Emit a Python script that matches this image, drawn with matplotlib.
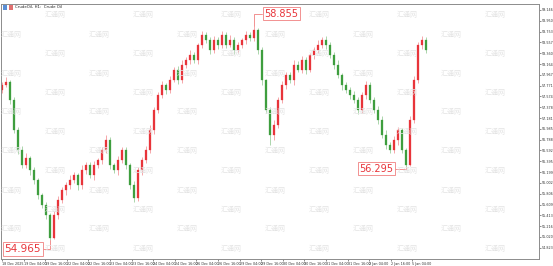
import matplotlib
matplotlib.use("Agg")
import matplotlib.pyplot as plt
from matplotlib.patches import Rectangle

# hourly closes
close = [57.78, 57.84, 57.51, 56.96, 56.60, 56.33, 56.46, 56.24, 56.05, 55.78,
         55.60, 55.42, 55.00, 55.42, 55.69, 55.87, 55.96, 56.05, 56.15, 55.96,
         56.24, 56.33, 56.15, 56.33, 56.42, 56.60, 56.78, 56.33, 56.24, 56.42,
         56.60, 56.33, 55.96, 55.73, 56.24, 56.42, 56.60, 56.96, 57.33, 57.60,
         57.78, 57.69, 57.87, 58.06, 57.87, 58.15, 58.24, 58.33, 58.24, 58.51,
         58.69, 58.60, 58.42, 58.60, 58.51, 58.69, 58.51, 58.60, 58.42, 58.51,
         58.60, 58.69, 58.64, 58.78, 58.42, 57.87, 57.33, 56.87, 57.06, 57.51,
         57.78, 57.96, 57.87, 58.15, 58.06, 58.24, 58.06, 58.33, 58.42, 58.51,
         58.60, 58.51, 58.33, 58.15, 57.96, 57.78, 57.69, 57.60, 57.51, 57.33,
         57.60, 57.78, 57.51, 57.33, 57.15, 56.87, 56.69, 56.60, 56.78, 56.96,
         56.60, 56.33, 57.15, 57.87, 58.51, 58.60, 58.42]
first_open = 57.70
upper_wick = [0.05, 0.08, 0.04, 0.06, 0.05, 0.07, 0.09, 0.04, 0.06, 0.05,
              0.04, 0.06, 0.03, 0.08, 0.07, 0.05, 0.06, 0.09, 0.05, 0.04,
              0.08, 0.06, 0.05, 0.07, 0.04, 0.06, 0.10, 0.05, 0.04, 0.07,
              0.05, 0.06, 0.04, 0.08, 0.05, 0.06, 0.07, 0.09, 0.05, 0.06,
              0.08, 0.04, 0.07, 0.05, 0.06, 0.09, 0.05, 0.08, 0.06, 0.04,
              0.07, 0.05, 0.06, 0.08, 0.05, 0.07, 0.06, 0.09, 0.05, 0.06,
              0.04, 0.07, 0.05, 0.075, 0.04, 0.05, 0.03, 0.06, 0.08, 0.05,
              0.07, 0.06, 0.05, 0.08, 0.06, 0.07, 0.05, 0.04, 0.06, 0.09,
              0.05, 0.07, 0.06, 0.05, 0.08, 0.04, 0.06, 0.05, 0.07, 0.06,
              0.05, 0.08, 0.06, 0.05, 0.07, 0.06, 0.09, 0.05, 0.07, 0.06,
              0.04, 0.03, 0.06, 0.08, 0.05, 0.07, 0.05]
lower_wick = [0.06, 0.04, 0.07, 0.05, 0.08, 0.06, 0.05, 0.09, 0.06, 0.07,
              0.05, 0.08, 0.035, 0.02, 0.07, 0.05, 0.09, 0.06, 0.05, 0.08,
              0.06, 0.07, 0.05, 0.09, 0.06, 0.08, 0.05, 0.07, 0.06, 0.09,
              0.05, 0.07, 0.06, 0.08, 0.05, 0.09, 0.06, 0.05, 0.07, 0.06,
              0.05, 0.08, 0.06, 0.04, 0.07, 0.05, 0.06, 0.08, 0.05, 0.07,
              0.06, 0.05, 0.08, 0.06, 0.07, 0.05, 0.06, 0.04, 0.07, 0.05,
              0.06, 0.08, 0.05, 0.06, 0.07, 0.09, 0.06, 0.18, 0.08, 0.06,
              0.05, 0.07, 0.06, 0.08, 0.05, 0.06, 0.07, 0.05, 0.08, 0.06,
              0.05, 0.07, 0.06, 0.08, 0.05, 0.09, 0.06, 0.07, 0.05, 0.08,
              0.06, 0.07, 0.05, 0.06, 0.08, 0.05, 0.07, 0.06, 0.05, 0.08,
              0.06, 0.035, 0.02, 0.05, 0.06, 0.08, 0.05]

price_ticks = [59.146, 58.950, 58.753, 58.557, 58.360, 58.164, 57.967, 57.771,
               57.574, 57.378, 57.181, 56.985, 56.788, 56.592, 56.395, 56.199,
               56.002, 55.806, 55.609, 55.413, 55.216, 55.020, 54.823]
time_labels = ["18 Dec 2025", "19 Dec 04:00", "19 Dec 16:00", "22 Dec 04:00",
               "22 Dec 16:00", "23 Dec 04:00", "23 Dec 16:00", "24 Dec 04:00",
               "24 Dec 16:00", "26 Dec 04:00", "26 Dec 16:00", "29 Dec 04:00",
               "29 Dec 16:00", "30 Dec 04:00", "30 Dec 16:00", "31 Dec 04:00",
               "31 Dec 16:00", "2 Jan 04:00", "2 Jan 16:00", "5 Jan 04:00"]
bars_per_label = 5.4

opens = [first_open] + close[:-1]
highs = [max(o, c) + w for o, c, w in zip(opens, close, upper_wick)]
lows = [min(o, c) - w for o, c, w in zip(opens, close, lower_wick)]

up_col = "#e8343a"
dn_col = "#3e9e3e"

fig = plt.figure(figsize=(5.53, 2.66), dpi=100)
ax = fig.add_axes([1 / 553, 7 / 266, 538 / 553, 255 / 266])

# watermark grid
for r in range(13):
    yy = 1 - (15 + 19.5 * r) / 266
    x0 = 55 if r % 2 == 0 else 11
    for k in range(7):
        xx = (x0 + 88 * k) / 553
        if xx < 0.96:
            fig.text(xx, yy, "汇通网", fontsize=5, color="#e4e4e4",
                     family=["Noto Sans CJK SC", "DejaVu Sans"],
                     ha="center", va="center", zorder=0)

for i, (o, c, h, l) in enumerate(zip(opens, close, highs, lows)):
    col = up_col if c >= o else dn_col
    ax.vlines(i, l, h, color=col, lw=0.5, alpha=0.6)
    ax.add_patch(Rectangle((i - 0.25, min(o, c)), 0.5, max(abs(c - o), 0.01),
                           facecolor=col, edgecolor=col, lw=0.2))

ax.set_xlim(-0.25, 134.25)
ax.set_ylim(54.619, 59.255)
ax.patch.set_alpha(0)

for s in ax.spines.values():
    s.set_color("#8c8c8c")
    s.set_linewidth(0.7)

ax.yaxis.tick_right()
ax.set_yticks(price_ticks)
ax.set_yticklabels(["%.3f" % v for v in price_ticks])
ax.tick_params(axis="y", labelsize=2.4, length=1.5, width=0.4, pad=0.8, colors="#333333")
ax.set_xticks([k * bars_per_label for k in range(len(time_labels))])
ax.set_xticklabels(time_labels, ha="left")
ax.tick_params(axis="x", labelsize=2.4, length=1.5, width=0.4, pad=0.5, colors="#333333")

box = dict(boxstyle="square,pad=0.15", fc="white", ec="#f08080", lw=0.6)
i_hi = highs.index(max(highs))
i_lo = lows.index(min(lows))
ax.annotate("%.3f" % highs[i_hi], xy=(i_hi, highs[i_hi]), xytext=(19.5, 9),
            textcoords="offset points", ha="center", va="center",
            fontsize=7, color=up_col, bbox=box,
            arrowprops=dict(arrowstyle="-", color="#f08080", lw=0.6, shrinkA=0, shrinkB=0,
                            relpos=(0, 0.5),
                            connectionstyle="angle,angleA=0,angleB=90,rad=0"))
ax.annotate("%.3f" % lows[i_lo], xy=(i_lo, lows[i_lo]), xytext=(-19.5, -6.5),
            textcoords="offset points", ha="center", va="center",
            fontsize=7.5, color=up_col, bbox=box,
            arrowprops=dict(arrowstyle="-", color="#f08080", lw=0.6, shrinkA=0, shrinkB=0,
                            relpos=(1, 0.5),
                            connectionstyle="angle,angleA=0,angleB=90,rad=0"))
i_lo2 = 101
ax.annotate("%.3f" % lows[i_lo2], xy=(i_lo2, lows[i_lo2]), xytext=(-21.5, -1.5),
            textcoords="offset points", ha="center", va="center",
            fontsize=7, color=up_col, bbox=box,
            arrowprops=dict(arrowstyle="-", color="#f08080", lw=0.6, shrinkA=0, shrinkB=0,
                            relpos=(1, 0.5),
                            connectionstyle="angle,angleA=0,angleB=90,rad=0"))

# header
fig.patches.append(Rectangle((3 / 553, 1 - 10 / 266), 4 / 553, 5 / 266,
                             transform=fig.transFigure, fc="#5b8fd6", ec="none"))
fig.patches.append(Rectangle((9 / 553, 1 - 10 / 266), 4 / 553, 5 / 266,
                             transform=fig.transFigure, fc="#e07070", ec="none"))
fig.text(15 / 553, 1 - 7.5 / 266, "CrudeOil, H1:  Crude Oil", fontsize=2.8,
         color="#222222", va="center")

fig.savefig("out.png", dpi=100)
